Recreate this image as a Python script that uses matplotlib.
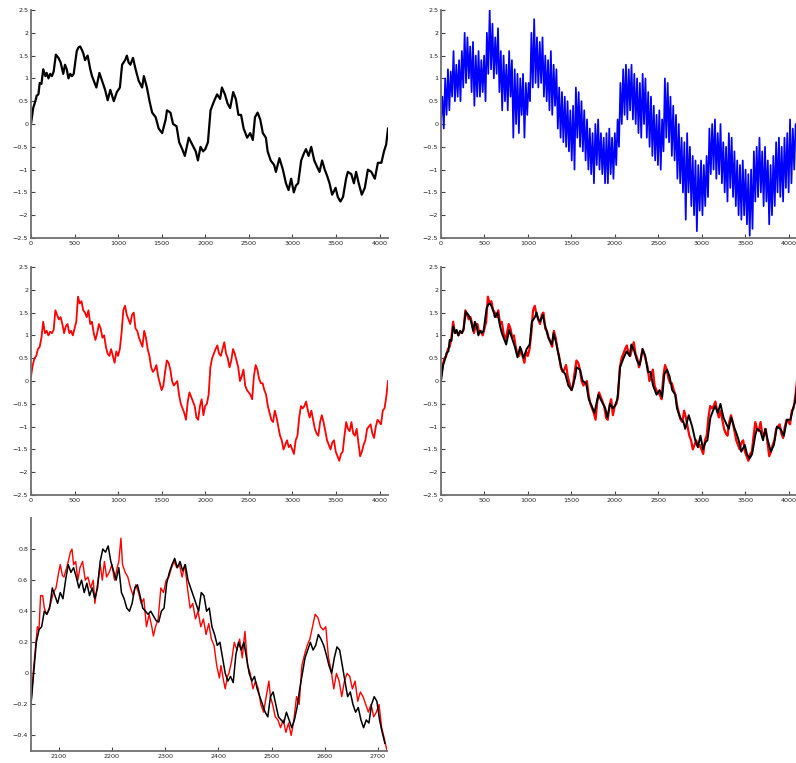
import numpy as np
import matplotlib
matplotlib.use("Agg")
import matplotlib.pyplot as plt

# ---------------- data ----------------
# clean reference signal (black), sample index vs value
black_x = [0, 25, 50, 65, 85, 100, 120, 140, 165, 180, 200, 220, 240, 260, 285, 315, 340, 370, 390, 410,
           430, 450, 470, 490, 525, 545, 565, 585, 600, 620, 650, 680, 700, 720, 750, 785, 815, 850, 880, 910,
           950, 985, 1020, 1045, 1080, 1100, 1120, 1140, 1170, 1200, 1235, 1275, 1295, 1330, 1360, 1390, 1430, 1465, 1505, 1545,
           1560, 1600, 1630, 1670, 1700, 1735, 1765, 1810, 1850, 1890, 1915, 1945, 1975, 2000, 2030, 2060, 2100, 2135, 2170, 2190,
           2225, 2255, 2285, 2320, 2350, 2380, 2410, 2440, 2480, 2515, 2545, 2570, 2600, 2630, 2660, 2695, 2715, 2750, 2790, 2810,
           2850, 2890, 2925, 2955, 2985, 3015, 3040, 3065, 3100, 3130, 3155, 3185, 3215, 3250, 3285, 3310, 3340, 3370, 3400, 3425,
           3455, 3495, 3520, 3550, 3580, 3615, 3635, 3675, 3705, 3730, 3760, 3795, 3830, 3865, 3905, 3945, 3980, 4020, 4050, 4075,
           4096]
black_y = [0.00, 0.35, 0.50, 0.62, 0.65, 0.90, 0.88, 1.20, 1.05, 1.12, 1.00, 1.10, 1.05, 1.15, 1.52, 1.45, 1.35, 1.10, 1.30, 1.20,
           1.00, 1.10, 1.05, 1.10, 1.60, 1.68, 1.70, 1.62, 1.55, 1.40, 1.50, 1.20, 1.05, 0.95, 0.80, 1.12, 0.95, 0.75, 0.52, 0.75,
           0.50, 0.70, 0.80, 1.30, 1.40, 1.50, 1.35, 1.30, 1.45, 1.20, 0.95, 0.80, 1.05, 0.80, 0.50, 0.25, 0.15, -0.10, -0.20, 0.10,
           0.30, 0.25, 0.00, -0.05, -0.40, -0.55, -0.70, -0.30, -0.45, -0.60, -0.80, -0.50, -0.60, -0.55, -0.40, 0.30, 0.50, 0.65, 0.55, 0.80,
           0.65, 0.45, 0.35, 0.70, 0.55, 0.20, 0.20, -0.10, -0.30, -0.20, -0.35, 0.15, 0.25, 0.10, -0.20, -0.30, -0.60, -0.80, -0.90, -1.05,
           -0.75, -1.00, -1.30, -1.45, -1.20, -1.50, -1.35, -1.30, -0.80, -0.65, -0.55, -0.70, -0.50, -0.80, -0.95, -1.05, -0.80, -1.00, -1.15, -1.30,
           -1.55, -1.40, -1.60, -1.70, -1.60, -1.20, -1.05, -1.10, -1.30, -1.05, -1.30, -1.55, -1.40, -1.00, -1.05, -1.20, -0.85, -0.85, -0.60, -0.45,
           -0.10]

# noisy observation (blue), evenly spaced samples over 0..4096
blue_y = [0.1, 0.6, -0.1, 1.0, 0.2, 1.2, 0.3, 1.15, 0.6, 1.6, 0.5, 1.3, 0.6, 1.4, 0.5, 1.6, 0.8, 2.0, 0.9, 1.9,
          1.0, 1.7, 0.7, 1.8, 0.4, 1.5, 0.6, 1.6, 0.6, 1.4, 0.7, 1.5, 0.5, 2.0, 1.1, 2.5, 1.2, 2.2, 1.0, 1.9,
          1.1, 2.1, 0.7, 1.6, 0.3, 1.5, 0.5, 1.3, 0.3, 1.6, 0.6, 1.4, -0.3, 1.2, 0.0, 1.1, -0.2, 1.0, 0.2, 1.1,
          -0.3, 0.9, 0.2, 0.9, 0.5, 2.0, 0.8, 2.3, 0.9, 1.9, 0.8, 1.8, 0.9, 1.9, 0.6, 1.5, 0.5, 1.4, 0.3, 1.6,
          0.2, 1.3, 0.4, 1.2, -0.1, 0.8, -0.3, 0.7, -0.4, 0.6, -0.5, 0.5, -0.6, 0.3, -0.8, 0.4, -1.0, 0.8, -0.3, 0.7,
          -0.5, 0.5, -0.6, 0.3, -0.8, 0.1, -1.0, -0.1, -1.1, -0.2, -1.3, 0.0, -0.9, 0.1, -1.0, -0.2, -1.1, -0.3, -1.3, -0.2,
          -1.3, -0.1, -1.1, -0.3, -1.2, -0.2, -0.9, 0.1, -0.5, 0.9, 0.0, 1.2, 0.2, 1.3, 0.1, 1.2, 0.3, 1.3, 0.1, 1.1,
          0.0, 1.0, -0.2, 0.9, -0.3, 1.1, 0.0, 1.0, -0.3, 0.7, -0.5, 0.6, -0.7, 0.4, -0.8, 0.2, -0.9, 0.3, -1.0, 0.1,
          -0.6, 1.0, -0.3, 0.9, -0.4, 0.6, -0.7, 0.4, -0.8, 0.2, -1.2, 0.0, -1.3, -0.3, -1.5, -0.4, -2.1, -0.2, -1.5, -0.5,
          -1.8, -0.7, -2.0, -0.8, -2.35, -0.9, -1.9, -0.8, -2.0, -0.9, -1.8, -0.7, -1.6, -0.1, -1.1, 0.0, -1.0, 0.1, -1.2, -0.2,
          -1.1, 0.0, -1.3, -0.4, -1.5, -0.5, -1.7, -0.2, -1.4, -0.3, -1.6, -0.6, -1.8, -0.8, -2.0, -0.9, -2.1, -0.8, -2.0, -1.0,
          -2.2, -1.1, -2.45, -1.0, -2.3, -0.6, -1.7, -0.5, -1.6, -0.3, -1.5, -0.6, -1.8, -0.5, -1.7, -0.8, -2.2, -0.9, -2.0, -0.7,
          -1.8, -0.4, -1.5, -0.3, -1.6, -0.5, -1.7, -0.3, -1.4, -0.2, -1.5, 0.1, -1.3, -0.1, -1.0, 0.0, -0.3]

# denoised estimate (red), evenly spaced samples over 0..4096
red_y = [0.10, 0.35, 0.50, 0.55, 0.70, 0.75, 0.95, 1.30, 1.05, 1.10, 1.00, 1.08, 1.05, 1.12, 1.55, 1.45, 1.35, 1.40, 1.25, 1.05,
         1.20, 1.25, 1.05, 1.10, 1.00, 1.15, 1.30, 1.85, 1.70, 1.75, 1.55, 1.50, 1.40, 1.55, 1.25, 1.30, 1.05, 0.90, 1.05, 1.25,
         1.15, 0.95, 1.00, 0.75, 0.60, 0.55, 0.70, 0.55, 0.40, 0.65, 0.55, 0.70, 1.05, 1.55, 1.65, 1.45, 1.35, 1.25, 1.45, 1.50,
         1.15, 1.10, 0.95, 0.85, 0.75, 1.10, 0.95, 0.70, 0.55, 0.30, 0.20, 0.25, 0.35, 0.10, -0.05, -0.20, -0.10, 0.20, 0.45, 0.40,
         0.25, 0.00, -0.10, -0.05, 0.00, -0.30, -0.50, -0.60, -0.70, -0.85, -0.45, -0.25, -0.35, -0.45, -0.55, -0.80, -0.85, -0.55, -0.40, -0.75,
         -0.55, -0.50, -0.30, 0.30, 0.50, 0.60, 0.70, 0.78, 0.60, 0.55, 0.70, 0.85, 0.60, 0.50, 0.30, 0.45, 0.70, 0.60, 0.45, 0.30,
         0.00, 0.10, 0.25, -0.10, -0.20, -0.25, -0.30, -0.40, 0.10, 0.35, 0.25, 0.05, -0.05, -0.05, -0.20, -0.30, -0.55, -0.70, -0.85, -0.90,
         -0.65, -0.80, -1.00, -1.20, -1.30, -1.50, -1.40, -1.30, -1.45, -1.40, -1.50, -1.60, -1.30, -1.20, -0.80, -0.55, -0.60, -0.55, -0.45, -0.65,
         -0.80, -0.65, -0.85, -1.05, -1.15, -1.20, -0.90, -0.75, -0.90, -1.10, -1.30, -1.40, -1.50, -1.35, -1.30, -1.55, -1.65, -1.75, -1.60, -1.55,
         -1.20, -0.90, -1.05, -1.10, -0.90, -1.15, -1.20, -1.05, -1.35, -1.65, -1.55, -1.40, -1.30, -1.05, -1.00, -0.95, -1.15, -1.25, -1.00, -0.85,
         -0.90, -0.95, -0.65, -0.60, -0.35, 0.00]

# zoomed detail, samples 2048..2716
zoom_black_x = list(range(2048, 2716, 5))
zoom_black_y = [-0.20, 0.00, 0.20, 0.28, 0.30, 0.40, 0.38, 0.42, 0.55, 0.50, 0.45, 0.52, 0.48, 0.60, 0.70, 0.65, 0.68, 0.62, 0.55, 0.60,
                0.52, 0.58, 0.50, 0.55, 0.48, 0.55, 0.72, 0.80, 0.78, 0.82, 0.72, 0.66, 0.60, 0.68, 0.52, 0.48, 0.42, 0.40, 0.45, 0.55,
                0.57, 0.50, 0.42, 0.40, 0.38, 0.40, 0.37, 0.34, 0.33, 0.40, 0.42, 0.58, 0.65, 0.70, 0.74, 0.68, 0.72, 0.66, 0.70, 0.60,
                0.55, 0.50, 0.45, 0.40, 0.52, 0.50, 0.40, 0.42, 0.30, 0.25, 0.18, 0.20, 0.10, 0.00, -0.05, -0.02, -0.06, 0.12, 0.20, 0.15,
                0.20, 0.10, 0.00, -0.05, -0.02, -0.10, -0.15, -0.20, -0.25, -0.28, -0.15, -0.12, -0.20, -0.28, -0.30, -0.32, -0.25, -0.30, -0.35, -0.30,
                -0.22, -0.10, 0.00, 0.10, 0.15, 0.20, 0.15, 0.18, 0.25, 0.22, 0.18, 0.12, 0.05, 0.00, 0.10, 0.17, 0.15, 0.05, -0.05, -0.15,
                -0.12, -0.20, -0.25, -0.22, -0.30, -0.35, -0.30, -0.32, -0.20, -0.15, -0.18, -0.30, -0.38, -0.45]
zoom_red_x = [2048, 2052, 2056, 2060, 2063, 2066, 2070, 2073, 2077, 2080, 2085, 2090, 2095, 2100, 2103, 2107, 2110, 2115, 2118, 2122,
              2125, 2128, 2132, 2136, 2140, 2145, 2150, 2155, 2160, 2165, 2168, 2172, 2178, 2182, 2186, 2190, 2195, 2200, 2205, 2210,
              2213, 2217, 2220, 2225, 2230, 2235, 2240, 2245, 2250, 2255, 2260, 2265, 2270, 2275, 2278, 2282, 2287, 2292, 2297, 2302,
              2307, 2312, 2317, 2322, 2327, 2332, 2337, 2342, 2347, 2352, 2357, 2362, 2367, 2372, 2377, 2382, 2387, 2392, 2397, 2402,
              2405, 2410, 2413, 2417, 2420, 2425, 2430, 2435, 2440, 2445, 2450, 2455, 2460, 2465, 2470, 2475, 2480, 2485, 2490, 2495,
              2498, 2502, 2507, 2512, 2517, 2522, 2527, 2532, 2537, 2542, 2547, 2552, 2557, 2562, 2567, 2572, 2577, 2582, 2587, 2592,
              2597, 2602, 2607, 2612, 2617, 2622, 2627, 2632, 2637, 2642, 2647, 2652, 2657, 2662, 2667, 2672, 2677, 2682, 2687, 2692,
              2697, 2702, 2707, 2712, 2717]
zoom_red_y = [-0.20, 0.00, 0.15, 0.30, 0.28, 0.50, 0.50, 0.42, 0.38, 0.40, 0.45, 0.52, 0.55, 0.65, 0.70, 0.63, 0.62, 0.68, 0.72, 0.78,
              0.80, 0.70, 0.72, 0.60, 0.68, 0.72, 0.60, 0.62, 0.55, 0.60, 0.45, 0.55, 0.70, 0.60, 0.72, 0.62, 0.65, 0.70, 0.60, 0.68,
              0.72, 0.87, 0.70, 0.65, 0.62, 0.55, 0.50, 0.57, 0.52, 0.45, 0.48, 0.30, 0.38, 0.30, 0.24, 0.30, 0.35, 0.55, 0.52, 0.60,
              0.62, 0.68, 0.72, 0.68, 0.70, 0.62, 0.70, 0.55, 0.42, 0.45, 0.35, 0.40, 0.30, 0.35, 0.25, 0.32, 0.22, 0.18, 0.05, -0.03,
              0.05, -0.05, -0.10, -0.02, 0.00, 0.08, 0.20, 0.15, 0.22, 0.10, 0.27, 0.05, 0.00, -0.10, -0.05, -0.10, -0.20, -0.25, -0.15, -0.05,
              -0.15, -0.20, -0.28, -0.30, -0.35, -0.30, -0.38, -0.32, -0.40, -0.30, -0.15, -0.20, 0.05, 0.12, 0.18, 0.22, 0.30, 0.38, 0.36, 0.30,
              0.28, 0.30, 0.10, 0.02, -0.10, 0.00, -0.05, -0.15, -0.05, 0.00, -0.02, -0.10, -0.05, -0.18, -0.12, -0.15, -0.20, -0.25, -0.20, -0.28,
              -0.25, -0.20, -0.35, -0.42, -0.50]

full_xticks = [0, 500, 1000, 1500, 2000, 2500, 3000, 3500, 4000]
full_yticks = [-2.5, -2, -1.5, -1, -0.5, 0, 0.5, 1, 1.5, 2, 2.5]
zoom_xticks = [2100, 2200, 2300, 2400, 2500, 2600, 2700]
zoom_yticks = [-0.4, -0.2, 0, 0.2, 0.4, 0.6, 0.8]

# ---------------- drawing ----------------
W, H = 796, 763
fig = plt.figure(figsize=(W / 100, H / 100), dpi=100)

def box(l, t, r, b):
    return [l / W, 1 - b / H, (r - l) / W, (b - t) / H]

spine_c = "#6e6e6e"

def style(ax, xticks, yticks, xlim, ylim):
    for s in ("top", "right"):
        ax.spines[s].set_visible(False)
    for s in ("left", "bottom"):
        ax.spines[s].set_color(spine_c)
        ax.spines[s].set_linewidth(1.3)
    ax.set_xlim(*xlim)
    ax.set_ylim(*ylim)
    ax.set_xticks(xticks)
    ax.set_yticks(yticks)
    ax.set_xticklabels([("%g" % v).replace("-", "\u2212") for v in xticks])
    ax.set_yticklabels([("%g" % v).replace("-", "\u2212") for v in yticks])
    ax.tick_params(direction="in", length=3, width=0.8, color="#444444",
                   labelsize=4.6, labelcolor="#222222", pad=2)

blue_x = np.linspace(0, 4096, len(blue_y))
red_x = np.linspace(0, 4096, len(red_y))

ax1 = fig.add_axes(box(31, 10, 388, 238))
ax1.plot(black_x, black_y, color="black", lw=1.6)
style(ax1, full_xticks, full_yticks, (0, 4096), (-2.5, 2.5))

ax2 = fig.add_axes(box(441, 10, 797, 238))
ax2.plot(blue_x, blue_y, color="#0000ff", lw=1.25)
style(ax2, full_xticks, full_yticks, (0, 4096), (-2.5, 2.5))

ax3 = fig.add_axes(box(31, 267, 388, 495))
ax3.plot(red_x, red_y, color="#ff0000", lw=1.3)
style(ax3, full_xticks, full_yticks, (0, 4096), (-2.5, 2.5))

ax4 = fig.add_axes(box(441, 267, 797, 495))
ax4.plot(red_x, red_y, color="#ff0000", lw=1.6)
ax4.plot(black_x, black_y, color="black", lw=1.4)
style(ax4, full_xticks, full_yticks, (0, 4096), (-2.5, 2.5))

ax5 = fig.add_axes(box(31, 518, 387, 751))
ax5.plot(zoom_red_x, zoom_red_y, color="#ff0000", lw=1.0)
ax5.plot(zoom_black_x, zoom_black_y, color="black", lw=1.1)
style(ax5, zoom_xticks, zoom_yticks, (2048, 2717), (-0.5, 1.0))

fig.savefig("out.png", dpi=100)
